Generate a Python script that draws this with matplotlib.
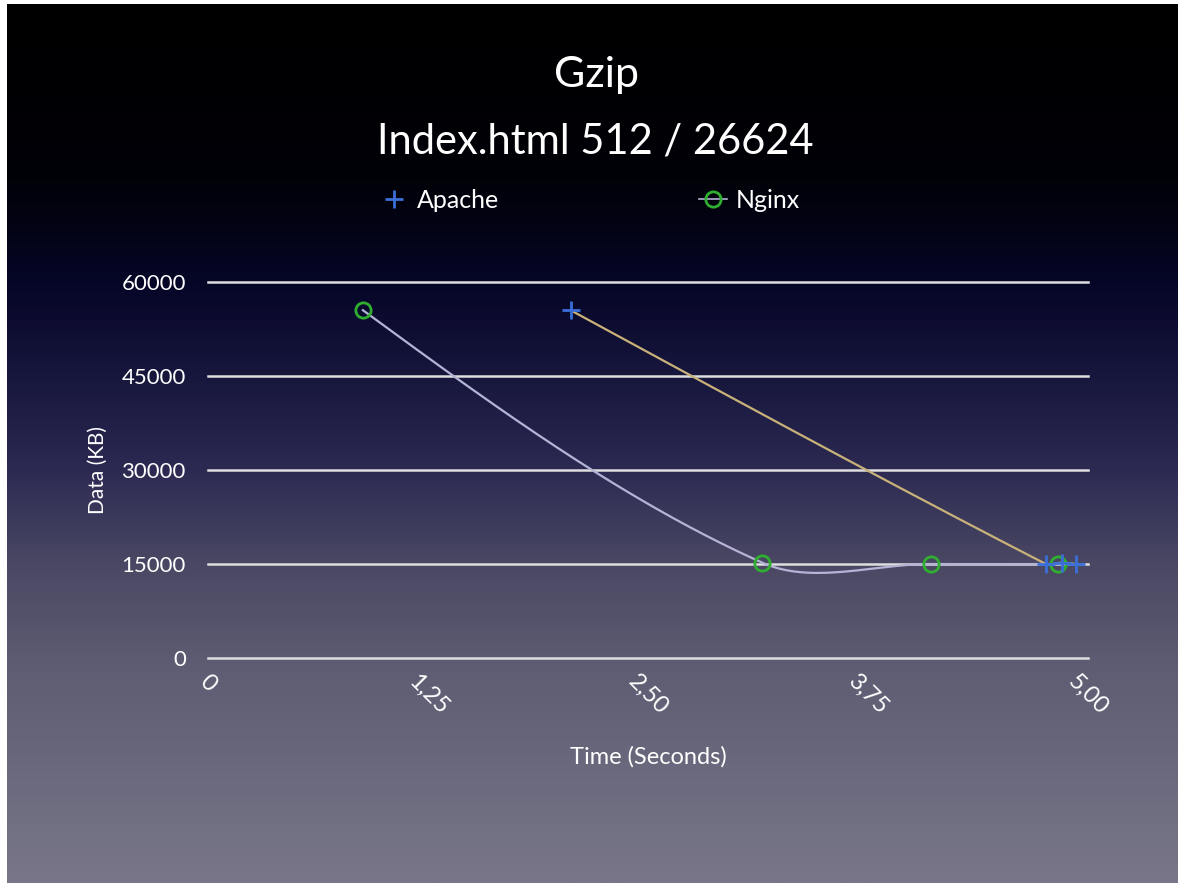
import numpy as np
import matplotlib
matplotlib.use("Agg")
import matplotlib.pyplot as plt
import matplotlib.transforms as mtransforms
from matplotlib.lines import Line2D
from matplotlib.colors import LinearSegmentedColormap

# ---- data ----
apache_x = [2.06, 4.76, 4.85, 4.93]
apache_y = [55500, 15000, 15200, 15000]
nginx_x = [0.88, 3.15, 4.11, 4.83]
nginx_y = [55500, 15200, 15000, 15000]
x_ticks = [0, 1.25, 2.5, 3.75, 5.0]
x_tick_labels = ["0", "1,25", "2,50", "3,75", "5,00"]
y_ticks = [0, 15000, 30000, 45000, 60000]
y_tick_labels = ["0", "15000", "30000", "45000", "60000"]

W, H = 1178, 883
fig = plt.figure(figsize=(W / 100, H / 100), dpi=100, facecolor="white")
FONT = "Lato"

# background gradient (slide)
bg = fig.add_axes([7 / W, 0, 1 - 7 / W, 1 - 4 / H])
bg.set_axis_off()
stops = [
    (0.00, (0, 0, 0)),
    (0.20, (1, 1, 8)),
    (0.32, (6, 6, 40)),
    (0.43, (24, 23, 62)),
    (0.53, (44, 42, 82)),
    (0.63, (72, 70, 98)),
    (0.75, (94, 92, 114)),
    (1.00, (120, 118, 136)),
]
cmap = LinearSegmentedColormap.from_list(
    "slide", [(p, tuple(c / 255 for c in col)) for p, col in stops])
grad = np.linspace(0, 1, 512).reshape(-1, 1)
bg.imshow(grad, aspect="auto", cmap=cmap, extent=[0, 1, 0, 1], origin="upper")
bg.set_xlim(0, 1)
bg.set_ylim(0, 1)

# plot axes
x0, x1 = 208, 1088
yt, yb = 282, 658
ax = fig.add_axes([x0 / W, 1 - yb / H, (x1 - x0) / W, (yb - yt) / H])
ax.patch.set_alpha(0)
for s in ax.spines.values():
    s.set_visible(False)
ax.set_xlim(0, 5)
ax.set_ylim(0, 60000)

for yv in y_ticks:
    ax.axhline(yv, color="#dedede", lw=1.8, clip_on=False, zorder=1)

ax.set_xticks(x_ticks)
ax.set_xticklabels(x_tick_labels, rotation=-45, ha="center", va="top",
                   fontsize=17, color="white", family=FONT)
shift = mtransforms.ScaledTranslation(-7 / 100, 0, fig.dpi_scale_trans)
for lbl in ax.get_xticklabels():
    lbl.set_transform(lbl.get_transform() + shift)
ax.set_yticks(y_ticks)
ax.set_yticklabels(y_tick_labels, fontsize=16, color="white", family=FONT)
ax.tick_params(axis="both", length=0)
ax.tick_params(axis="x", pad=9)
ax.tick_params(axis="y", pad=16)

ax.set_xlabel("Time (Seconds)", fontsize=17, color="white", family=FONT, labelpad=20)
ax.set_ylabel("Data (KB)", fontsize=15, color="white", family=FONT, labelpad=10)


def smooth(xs, ys, n=80):
    # chord-length Catmull-Rom style Hermite curve, in display-proportional space
    sx, sy = (x1 - x0) / 5.0, (yb - yt) / 60000.0
    P = np.column_stack([np.asarray(xs) * sx, np.asarray(ys) * sy])
    k = len(P)
    d = np.linalg.norm(np.diff(P, axis=0), axis=1)
    t = np.linspace(0, 1, n)
    h00 = 2 * t**3 - 3 * t**2 + 1
    h10 = t**3 - 2 * t**2 + t
    h01 = -2 * t**3 + 3 * t**2
    h11 = t**3 - t**2
    out = []
    for i in range(k - 1):
        A, B = P[i], P[i + 1]
        Ta = (P[i + 1] - P[i - 1]) * d[i] / (d[i - 1] + d[i]) if i > 0 else None
        Tb = (P[i + 2] - P[i]) * d[i] / (d[i] + d[i + 1]) if i + 2 < k else None
        if Ta is None and Tb is None:
            Ta = Tb = B - A
        elif Ta is None:
            Ta = (3 * (B - A) - Tb) / 2
        elif Tb is None:
            Tb = (3 * (B - A) - Ta) / 2
        seg = (h00[:, None] * A + h10[:, None] * Ta
               + h01[:, None] * B + h11[:, None] * Tb)
        out.append(seg)
    out = np.vstack(out)
    return out[:, 0] / sx, out[:, 1] / sy


line_apache = "#c9b27a"
line_nginx = "#b4b4d6"
col_apache = "#3a6fd8"
col_nginx = "#2fae2f"

ax_s, ay_s = smooth(apache_x, apache_y)
nx_s, ny_s = smooth(nginx_x, nginx_y)
ax.plot(ax_s, ay_s, color=line_apache, lw=1.6, zorder=2)
ax.plot(nx_s, ny_s, color=line_nginx, lw=1.6, zorder=2)
ax.plot(apache_x, apache_y, ls="none", marker="+", ms=13, mew=2.0,
        color=col_apache, zorder=4, clip_on=False)
ax.plot(nginx_x, nginx_y, ls="none", marker="o", ms=11, mew=2.0,
        mfc="none", mec=col_nginx, zorder=3, clip_on=False)

# titles
fig.text(597 / W, 1 - 75 / H, "Gzip", ha="center", va="center",
         fontsize=31, color="white", family=FONT)
fig.text(595 / W, 1 - 142 / H, "Index.html 512 / 26624", ha="center", va="center",
         fontsize=30, color="white", family=FONT)

# legend
handles = [
    Line2D([], [], ls="none", marker="+", ms=13, mew=2.0, color=col_apache),
    Line2D([], [], color=line_nginx, lw=1.2, marker="o", ms=11, mew=2.0,
           mfc="none", mec=col_nginx),
]
leg = fig.legend(handles, ["Apache", "Nginx"], ncol=2, loc="center",
                 bbox_to_anchor=(590 / W, 1 - 200 / H), frameon=False,
                 prop={"family": FONT, "size": 18}, labelcolor="white",
                 handlelength=1.1, handletextpad=0.35, columnspacing=8.0)

fig.savefig("out.png", dpi=100, facecolor="white")
